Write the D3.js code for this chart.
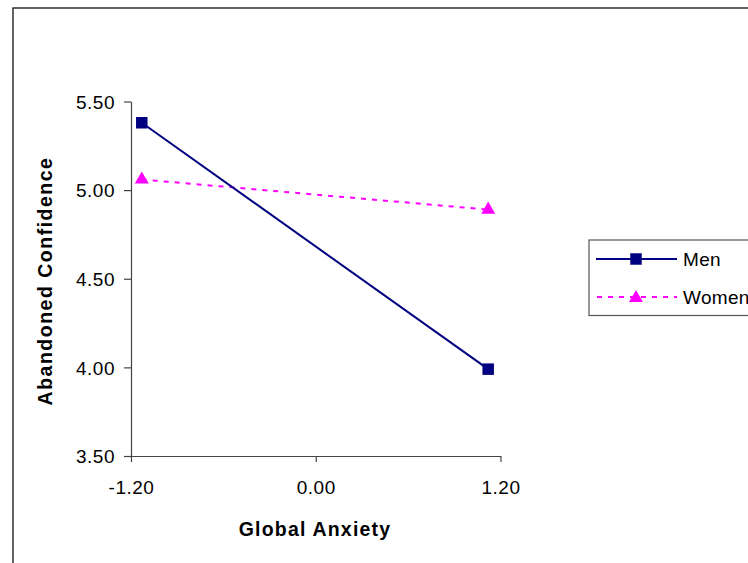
<!DOCTYPE html>
<html><head><meta charset="utf-8">
<script src="https://cdn.jsdelivr.net/npm/d3@7"></script>
<style>body{margin:0;background:#fff;} svg{display:block;}</style>
</head><body>
<script>
const xValues = [-1.13, 1.12];
const seriesNames = ["Men", "Women"];
const menValues = [5.38, 3.99];
const womenValues = [5.06, 4.89];
const xTicks = [-1.2, 0, 1.2];
const yTicks = [3.5, 4.0, 4.5, 5.0, 5.5];
const xTitle = "Global Anxiety";
const yTitle = "Abandoned Confidence";

const W = 748, H = 563;
const svg = d3.select("body").append("svg").attr("width", W).attr("height", H);
svg.append("rect").attr("x", 13).attr("y", 8).attr("width", W + 20).attr("height", H + 20)
  .attr("fill", "#fff").attr("stroke", "#111").attr("stroke-width", 1.3);

const x = d3.scaleLinear().domain([-1.2, 1.2]).range([131, 500.5]);
const y = d3.scaleLinear().domain([3.5, 5.5]).range([456, 101.5]);

const font = "'Liberation Sans', Arial, sans-serif";
const fmt = v => d3.format(".2f")(v).replace("\u2212", "-");

const xAxis = svg.append("g").attr("transform", "translate(0,456)")
  .call(d3.axisBottom(x).tickValues(xTicks).tickSize(6).tickSizeOuter(0).tickFormat(fmt));
const yAxis = svg.append("g").attr("transform", "translate(131,0)")
  .call(d3.axisLeft(y).tickValues(yTicks).tickSize(7).tickSizeOuter(0).tickFormat(fmt));
[xAxis, yAxis].forEach(a => {
  a.select(".domain").attr("stroke", "#444").attr("stroke-width", 1.2);
  a.selectAll(".tick line").attr("stroke", "#444").attr("stroke-width", 1.2);
  a.selectAll("text").attr("font-family", font).attr("font-size", 19).attr("fill", "#000")
    .attr("letter-spacing", "0.5px");
});
xAxis.selectAll("text").attr("dy", null).attr("y", 38);
yAxis.selectAll("text").attr("x", -16).attr("dy", "0.36em");

svg.append("text").attr("x", 315).attr("y", 536).attr("text-anchor", "middle")
  .attr("font-family", font).attr("font-weight", "bold").attr("font-size", 19.5)
  .attr("letter-spacing", "1.2px").text(xTitle);
svg.append("text").attr("transform", "translate(52,281) rotate(-90)").attr("text-anchor", "middle")
  .attr("font-family", font).attr("font-weight", "bold").attr("font-size", 19.5)
  .attr("letter-spacing", "1.5px").text(yTitle);

const line = d3.line().x(d => x(d[0])).y(d => y(d[1]));
const menPts = xValues.map((v, i) => [v, menValues[i]]);
const womenPts = xValues.map((v, i) => [v, womenValues[i]]);

svg.append("path").datum(womenPts).attr("d", line).attr("fill", "none")
  .attr("stroke", "#ff00ff").attr("stroke-width", 2).attr("stroke-dasharray", "5,6");
svg.append("path").datum(menPts).attr("d", line).attr("fill", "none")
  .attr("stroke", "#000080").attr("stroke-width", 2);

const sq = d3.symbol().type(d3.symbolSquare).size(132);
const tri = d3.symbol().type(d3.symbolTriangle).size(85);
svg.selectAll(".men").data(menPts).join("path")
  .attr("transform", d => `translate(${x(d[0])},${y(d[1])})`).attr("d", sq).attr("fill", "#000080");
svg.selectAll(".women").data(womenPts).join("path")
  .attr("transform", d => `translate(${x(d[0])},${y(d[1])})`).attr("d", tri).attr("fill", "#ff00ff");

// legend
const lg = svg.append("g");
lg.append("rect").attr("x", 589).attr("y", 240).attr("width", 200).attr("height", 75.5)
  .attr("fill", "#fff").attr("stroke", "#555").attr("stroke-width", 1.2);
lg.append("line").attr("x1", 596).attr("x2", 677).attr("y1", 259).attr("y2", 259)
  .attr("stroke", "#000080").attr("stroke-width", 2);
lg.append("path").attr("transform", "translate(636,259)").attr("d", sq).attr("fill", "#000080");
lg.append("line").attr("x1", 597).attr("x2", 677).attr("y1", 297).attr("y2", 297)
  .attr("stroke", "#ff00ff").attr("stroke-width", 2).attr("stroke-dasharray", "5,6");
lg.append("path").attr("transform", "translate(636,298)").attr("d", tri).attr("fill", "#ff00ff");
lg.selectAll("text.lbl").data(seriesNames).join("text")
  .attr("x", 683).attr("y", (d, i) => 259 + i * 38).attr("dy", "0.36em")
  .attr("font-family", font).attr("font-size", 19).attr("letter-spacing", "0.3px").text(d => d);
</script>
</body></html>
